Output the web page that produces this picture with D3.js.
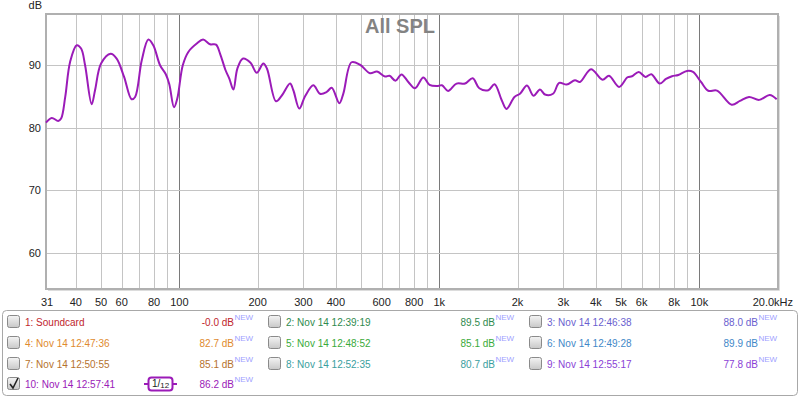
<!DOCTYPE html>
<html>
<head>
<meta charset="utf-8">
<script src="https://cdn.jsdelivr.net/npm/d3@7"></script>
<style>
  body { margin: 0; background: #fff; }
  svg { display: block; font-family: "Liberation Sans", Arial, sans-serif; }
</style>
</head>
<body>
<svg id="chart" width="800" height="397"></svg>
<script>
// frequency response of trace 10 (Hz, dB)
var freqs = [30.7, 32.3, 34.2, 35.1, 36.4, 38.0, 40.3, 41.9, 43.4, 46.0, 47.4, 50.0, 54.4, 57.4, 61.3, 65.5, 67.6,
  71.7, 76.0, 79.4, 84.3, 88.7, 91.5, 95.4, 98.2, 103.1, 108.3, 116.7, 123.4, 131.3, 138.4, 143.4, 150.6, 155.7,
  161.4, 167.2, 175.8, 187.9, 198.5, 210.4, 217.4, 235.4, 248.3, 266.6, 274.5, 289.4, 304.5, 327.7, 347.7, 368.9,
  385.6, 412.5, 427.4, 459.6, 495.5, 541.4, 576.0, 618.3, 643.4, 678.4, 715.4, 759.8, 806.3, 868.0, 917.1, 979.9,
  1024, 1080, 1165, 1256, 1344, 1425, 1544, 1631, 1738, 1813, 1946, 2043, 2174, 2303, 2439, 2550, 2737, 2892,
  3090, 3325, 3476, 3832, 4244, 4496, 4913, 5295, 5511, 5849, 6212, 6539, 7042, 7446, 7852, 8303, 8969, 9458,
  10151, 10828, 11699, 13325, 14339, 15535, 17002, 18655, 19848];
var spl = [80.83, 81.57, 81.09, 81.47, 84.93, 90.53, 93.2, 92.67, 90.0, 83.76, 86.0, 90.27, 91.84, 91.07, 88.13,
  84.56, 84.93, 90.8, 94.11, 93.2, 90.0, 88.56, 86.96, 83.28, 84.67, 90.0, 92.13, 93.47, 94.11, 93.36, 93.31,
  91.87, 89.2, 87.87, 86.11, 89.47, 91.07, 90.4, 88.8, 90.27, 89.44, 84.24, 85.2, 87.07, 86.0, 83.07, 85.04,
  86.8, 85.44, 85.73, 86.4, 83.92, 85.47, 90.48, 90.08, 88.72, 88.99, 88.19, 88.32, 87.52, 88.53, 87.33, 86.32,
  88.03, 86.85, 86.67, 86.8, 85.89, 87.07, 87.07, 87.92, 86.32, 86.0, 86.96, 84.4, 83.01, 84.93, 85.44, 86.75,
  85.12, 86.11, 85.31, 85.44, 87.17, 86.91, 87.6, 87.33, 89.36, 87.68, 88.32, 86.53, 88.08, 88.24, 88.93, 88.13,
  88.56, 87.07, 87.81, 88.24, 88.45, 89.09, 88.93, 87.33, 85.92, 85.95, 83.68, 84.29, 84.93, 84.46, 85.25, 84.56];

var gridFreqs = [40, 50, 60, 70, 80, 90, 100, 200, 300, 400, 500, 600, 700, 800, 900, 1000,
  2000, 3000, 4000, 5000, 6000, 7000, 8000, 9000, 10000];
var decadeFreqs = [100, 1000, 10000];
var tickFreqs = [31, 40, 50, 60, 80, 100, 200, 300, 400, 600, 800, 1000, 2000, 3000, 4000, 5000, 6000, 8000, 10000];
var tickLabels = ["31", "40", "50", "60", "80", "100", "200", "300", "400", "600", "800", "1k", "2k", "3k", "4k", "5k", "6k", "8k", "10k"];
var dbTicks = [60, 70, 80, 90];

var traceNames = ["1: Soundcard", "2: Nov 14 12:39:19", "3: Nov 14 12:46:38", "4: Nov 14 12:47:36",
  "5: Nov 14 12:48:52", "6: Nov 14 12:49:28", "7: Nov 14 12:50:55", "8: Nov 14 12:52:35",
  "9: Nov 14 12:55:17", "10: Nov 14 12:57:41"];
var traceLevels = ["-0.0", "89.5", "88.0", "82.7", "85.1", "89.9", "85.1", "80.7", "77.8", "86.2"];

var traceColors = ["#c0262d", "#2f8a4e", "#6a5fcf", "#e08a2e", "#3aaa3a", "#3f88c8", "#b5722e", "#3a9e9e", "#8a3fd6", "#9a20b8"];
var lineColor = "#9b1bb8";

var svg = d3.select("#chart");
var plot = {left: 46, top: 14, right: 778, bottom: 289};

var x = d3.scaleLog().domain([30.7, 20080]).range([plot.left, plot.right]);
var y = d3.scaleLinear().domain([54.2, 98.2]).range([plot.bottom, plot.top]);

// grid
var grid = svg.append("g");
grid.selectAll("line.v").data(gridFreqs).enter().append("line")
  .attr("x1", function(d) { return Math.round(x(d)) + 0.5; })
  .attr("x2", function(d) { return Math.round(x(d)) + 0.5; })
  .attr("y1", plot.top).attr("y2", plot.bottom)
  .attr("stroke", function(d) { return decadeFreqs.indexOf(d) >= 0 ? "#7a7a7a" : "#c4c4c4"; })
  .attr("stroke-width", 1);
grid.selectAll("line.h").data(dbTicks).enter().append("line")
  .attr("x1", plot.left).attr("x2", plot.right)
  .attr("y1", function(d) { return Math.round(y(d)) + 0.5; })
  .attr("y2", function(d) { return Math.round(y(d)) + 0.5; })
  .attr("stroke", "#c4c4c4");

// frame
svg.append("rect")
  .attr("x", plot.left).attr("y", plot.top)
  .attr("width", plot.right - plot.left).attr("height", plot.bottom - plot.top)
  .attr("fill", "none").attr("stroke", "#b0b0b0").attr("stroke-width", 2);
svg.append("path")
  .attr("d", "M" + (plot.right + 1.5) + "," + (plot.top + 2) + "V" + (plot.bottom + 1.5) + "H" + (plot.left + 2))
  .attr("fill", "none").attr("stroke", "#dcdcdc").attr("stroke-width", 1);

// axis labels
svg.append("g").selectAll("text").data(dbTicks).enter().append("text")
  .attr("x", 41).attr("y", function(d) { return y(d); })
  .attr("dy", "0.35em").attr("text-anchor", "end")
  .attr("font-size", 11).attr("fill", "#222")
  .text(function(d) { return d; });
svg.append("text").attr("x", 42).attr("y", 9).attr("text-anchor", "end")
  .attr("font-size", 11).attr("fill", "#222").text("dB");

svg.append("g").selectAll("text").data(tickFreqs).enter().append("text")
  .attr("x", function(d) { return x(d); }).attr("y", 306)
  .attr("text-anchor", "middle").attr("font-size", 11).attr("fill", "#222")
  .text(function(d, i) { return tickLabels[i]; });
svg.append("text").attr("x", 793).attr("y", 306).attr("text-anchor", "end")
  .attr("font-size", 11).attr("fill", "#222").text("20.0kHz");

// title
svg.append("text").attr("x", 400).attr("y", 33).attr("text-anchor", "middle")
  .attr("font-size", 20).attr("font-weight", "bold").attr("fill", "#838383")
  .text("All SPL");

// response curve
var line = d3.line()
  .x(function(d) { return x(d); })
  .y(function(d, i) { return y(spl[i]); })
  .curve(d3.curveCatmullRom.alpha(0.5));
svg.append("path").datum(freqs)
  .attr("d", line)
  .attr("fill", "none").attr("stroke", lineColor).attr("stroke-width", 2)
  .attr("stroke-linejoin", "round");

// legend panel
var legend = svg.append("g");
legend.append("rect").attr("x", 2.5).attr("y", 310.5).attr("width", 795).attr("height", 85)
  .attr("rx", 4).attr("fill", "#fff").attr("stroke", "#a8a8a8");

var grad = svg.append("defs").append("linearGradient").attr("id", "cb").attr("x1", 0).attr("y1", 0).attr("x2", 0).attr("y2", 1);
grad.append("stop").attr("offset", "0%").attr("stop-color", "#f4f4f4");
grad.append("stop").attr("offset", "100%").attr("stop-color", "#c8c8c8");

var colX = [7, 268, 529];
var valX = [234, 495, 758];
var rowY = [322, 343, 364, 384];

var entry = legend.selectAll("g.entry").data(traceNames).enter().append("g")
  .attr("transform", function(d, i) { return "translate(0," + rowY[Math.floor(i / 3)] + ")"; });

entry.append("rect")
  .attr("x", function(d, i) { return colX[i % 3] + 0.5; }).attr("y", -6.5)
  .attr("width", 12).attr("height", 12).attr("rx", 2)
  .attr("fill", "url(#cb)").attr("stroke", "#8a8a8a");

entry.append("text")
  .attr("x", function(d, i) { return colX[i % 3] + 18; }).attr("dy", "0.35em")
  .attr("font-size", 10).attr("fill", function(d, i) { return traceColors[i]; })
  .text(function(d) { return d; });

entry.append("text")
  .attr("x", function(d, i) { return valX[i % 3]; }).attr("dy", "0.35em")
  .attr("text-anchor", "end").attr("font-size", 10)
  .attr("fill", function(d, i) { return traceColors[i]; })
  .text(function(d, i) { return traceLevels[i] + " dB"; });
entry.append("text")
  .attr("x", function(d, i) { return valX[i % 3] + 0.5; }).attr("y", -2)
  .attr("font-size", 8).attr("fill", "#a0a0ff")
  .text("NEW");

// tick for the checked trace
entry.filter(function(d, i) { return i === 9; }).append("path")
  .attr("d", "M" + (colX[0] + 3) + ",0 L" + (colX[0] + 6) + ",4 L" + (colX[0] + 11) + ",-6")
  .attr("fill", "none").attr("stroke", "#222").attr("stroke-width", 1.6);

// smoothing badge for trace 10
var badge = legend.append("g").attr("transform", "translate(0," + rowY[3] + ")");
badge.append("line").attr("x1", 144).attr("x2", 177).attr("y1", 0).attr("y2", 0)
  .attr("stroke", lineColor).attr("stroke-width", 2);
badge.append("rect").attr("x", 148.5).attr("y", -6.5).attr("width", 24).attr("height", 13).attr("rx", 3)
  .attr("fill", "#fff").attr("stroke", lineColor).attr("stroke-width", 2);
var bt = badge.append("text").attr("x", 152).attr("y", 3).attr("fill", "#222");
bt.append("tspan").attr("font-size", 10).text("1");
bt.append("tspan").attr("font-size", 10).text("/");
bt.append("tspan").attr("font-size", 8).attr("dy", 1).text("12");
</script>
</body>
</html>
